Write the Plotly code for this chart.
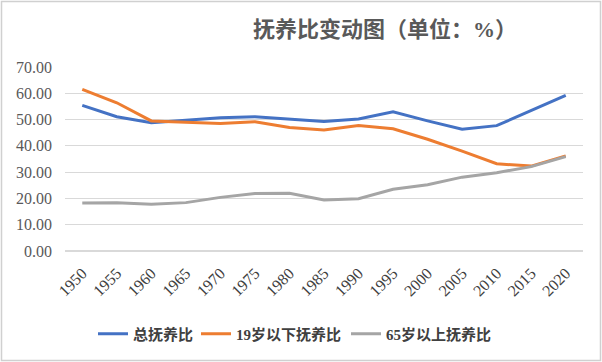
import plotly.graph_objects as go

years = ["1950","1955","1960","1965","1970","1975","1980","1985","1990","1995","2000","2005","2010","2015","2020"]
total = [55.4, 51.1, 48.8, 49.8, 50.7, 51.1, 50.3, 49.3, 50.2, 53.0, 49.5, 46.3, 47.7, 53.3, 59.2]
under19 = [61.5, 56.4, 49.5, 49.0, 48.5, 49.2, 47.0, 46.0, 47.7, 46.5, 42.5, 38.0, 33.2, 32.3, 36.2]
over65 = [18.3, 18.4, 17.8, 18.4, 20.4, 21.9, 22.0, 19.4, 19.9, 23.5, 25.2, 28.1, 29.8, 32.1, 35.9]
names = ["总抚养比", "19岁以下抚养比", "65岁以上抚养比"]
colors = ["#4472C4", "#ED7D31", "#A5A5A5"]
yticks = [0, 10, 20, 30, 40, 50, 60, 70]

FONT = "Liberation Serif, Noto Sans CJK SC, serif"

W, H = 602, 362
ml, mr, mt, mb = 65, 19, 67, 111
pw, ph = W - ml - mr, H - mt - mb

legend_ids = ["legend", "legend2", "legend3"]
text_starts = [140, 243, 393]

fig = go.Figure()
for vals, nm, c, lid in zip([total, under19, over65], names, colors, legend_ids):
    fig.add_trace(go.Scatter(x=years, y=vals, mode="lines", name="<b>" + nm + "</b>",
                             line=dict(color=c, width=3), legend=lid))

legend_layouts = {}
for lid, ts in zip(legend_ids, text_starts):
    legend_layouts[lid] = dict(orientation="h", x=(ts - 47 - ml) / pw, xanchor="left",
                               y=-(334 - (mt + ph)) / ph, yanchor="middle",
                               font=dict(size=15, color="#404040", family=FONT),
                               bgcolor="rgba(0,0,0,0)")

fig.update_layout(
    width=W, height=H,
    margin=dict(l=ml, r=mr, t=mt, b=mb),
    plot_bgcolor="rgba(0,0,0,0)", paper_bgcolor="white",
    font=dict(family=FONT, color="#595959"),
    title=dict(text="<b>抚养比变动图（单位：%）</b>", x=385 / W, xanchor="center",
               y=1 - 29 / H, yanchor="middle",
               font=dict(size=22, color="#595959", family=FONT)),
    xaxis=dict(type="category", range=[-0.5, len(years) - 0.5], tickangle=-45,
               showgrid=False, showline=False, ticks="", ticklabelstandoff=9,
               tickfont=dict(size=16, color="#404040", family=FONT)),
    yaxis=dict(range=[0, 70], tickvals=yticks,
               ticktext=["%.2f" % v for v in yticks], showgrid=True,
               gridcolor="#D9D9D9", gridwidth=1, zeroline=True, zerolinecolor="#D9D9D9",
               showline=False, ticks="", ticklabelstandoff=12,
               tickfont=dict(size=16, color="#595959", family=FONT)),
    showlegend=True,
    **legend_layouts,
)
fig.add_shape(type="rect", xref="paper", yref="paper",
              x0=(1.5 - ml) / pw, x1=(600.5 - ml) / pw,
              y0=(mt + ph - 360.5) / ph, y1=(mt + ph - 1.5) / ph,
              line=dict(color="#D0D0D0", width=1.5), layer="above")
fig.write_html("out.html", config={"displayModeBar": False},
               post_script="document.body.style.margin='0';document.body.style.padding='0';")
